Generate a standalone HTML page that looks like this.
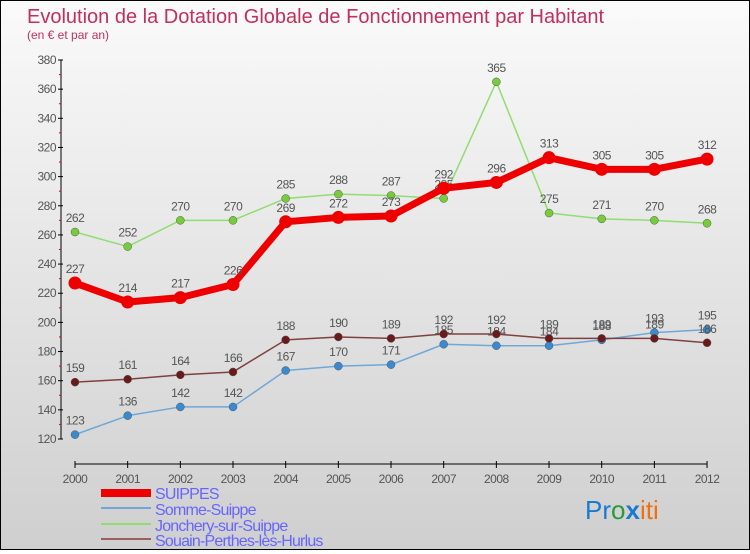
<!DOCTYPE html>
<html><head><meta charset="utf-8"><style>
html,body{margin:0;padding:0}
body{width:750px;height:550px;overflow:hidden;font-family:"Liberation Sans",sans-serif}
#c{position:absolute;left:0;top:0;width:748px;height:548px;border:1px solid #000;background:linear-gradient(#fafafa,#cfcfcf)}
</style></head><body>
<div id="c">
<svg id="s" width="748" height="548">
<text x="26" y="22" font-size="20" fill="#c0305a">Evolution de la Dotation Globale de Fonctionnement par Habitant</text>
<text x="26" y="38" font-size="12" fill="#c0305a">(en € et par an)</text>
<g id="axes"></g><g id="series"></g>
<g>
<rect x="100" y="488" width="50" height="8" fill="#e00"/>
<text x="154" y="498" font-size="16" fill="#66f" letter-spacing="-0.8">SUIPPES</text>
<rect x="100" y="506" width="50" height="2" fill="#6fa8d8"/>
<text x="154" y="514" font-size="16" fill="#66f" letter-spacing="-0.8">Somme-Suippe</text>
<rect x="100" y="522" width="50" height="2" fill="#90dd70"/>
<text x="154" y="530" font-size="16" fill="#66f" letter-spacing="-0.8">Jonchery-sur-Suippe</text>
<rect x="100" y="537" width="50" height="2" fill="#9a6060"/>
<text x="154" y="545" font-size="16" fill="#66f" letter-spacing="-0.8">Souain-Perthes-lès-Hurlus</text>
</g>
<text x="584" y="518" font-size="26"><tspan fill="#1a7ad0">Pr</tspan><tspan fill="#2a9a3a">o</tspan><tspan fill="#1a7ad0" font-weight="bold">x</tspan><tspan fill="#f07010">iti</tspan></text>
</svg></div>
<script>
const years=[2000,2001,2002,2003,2004,2005,2006,2007,2008,2009,2010,2011,2012];
const yTicks=[120,140,160,180,200,220,240,260,280,300,320,340,360,380];
const suippes=[227,214,217,226,269,272,273,292,296,313,305,305,312];
const somme=[123,136,142,142,167,170,171,185,184,184,188,193,195];
const jonchery=[262,252,270,270,285,288,287,285,365,275,271,270,268];
const souain=[159,161,164,166,188,190,189,192,192,189,189,189,186];
const NS="http://www.w3.org/2000/svg";
const X=i=>74+i*52.67, Y=v=>438-(v-120)*1.4577;
function el(t,a,p){const e=document.createElementNS(NS,t);for(const k in a)e.setAttribute(k,a[k]);p.appendChild(e);return e;}
const ax=document.getElementById('axes'),sg=document.getElementById('series');
const yl=el('line',{x1:60,y1:Y(380),x2:60,y2:Y(120),stroke:'#000','stroke-width':1},ax);


yTicks.forEach(t=>{
 el('line',{x1:57,x2:62,y1:Y(t),y2:Y(t),stroke:'#000'},ax);
 if(t<380) el('line',{x1:58,x2:60,y1:Y(t+10),y2:Y(t+10),stroke:'#e00'},ax);
 const tx=el('text',{x:55,y:Y(t)+4,'font-size':12,fill:'#555','text-anchor':'end','letter-spacing':'-0.5'},ax);
 tx.textContent=t;
 
 
});
const xl=el('line',{x1:X(0),x2:X(12),y1:463,y2:463,stroke:'#000'},ax);


years.forEach((y,i)=>{
 el('line',{x1:X(i),x2:X(i),y1:460,y2:467,stroke:'#000'},ax);
 const tx=el('text',{x:X(i),y:482,'font-size':12,fill:'#555','text-anchor':'middle','letter-spacing':'-0.5'},ax);
 tx.textContent=y;
 
 
});
function draw(vals,name,color,dot,w,r){
 const g=el('g',{},sg);
 
 
 el('polyline',{points:vals.map((v,i)=>X(i)+','+Y(v)).join(' '),fill:'none',stroke:color,'stroke-width':w,'stroke-linejoin':'round'},g);
 vals.forEach((v,i)=>{
  const c=el('circle',{cx:X(i),cy:Y(v),r:r,fill:dot,stroke:w>3?'none':'#555','stroke-width':0.5},g);
  
  
  const t=el('text',{x:X(i),y:Y(v)-10,'font-size':12,fill:'#555','text-anchor':'middle','letter-spacing':'-0.5'},g);
  t.textContent=v;
  
  
 });
}
draw(somme,'somme-suippe','#6fa8d8','#3a8ad0',1.5,4);
draw(souain,'souain','#804040','#6a1a1a',1.5,4);
draw(jonchery,'jonchery','#90dd70','#77cc3a',1.5,4);
draw(suippes,'suippes','#ee0000','#ee0000',7,6.5);
</script>
</body></html>
